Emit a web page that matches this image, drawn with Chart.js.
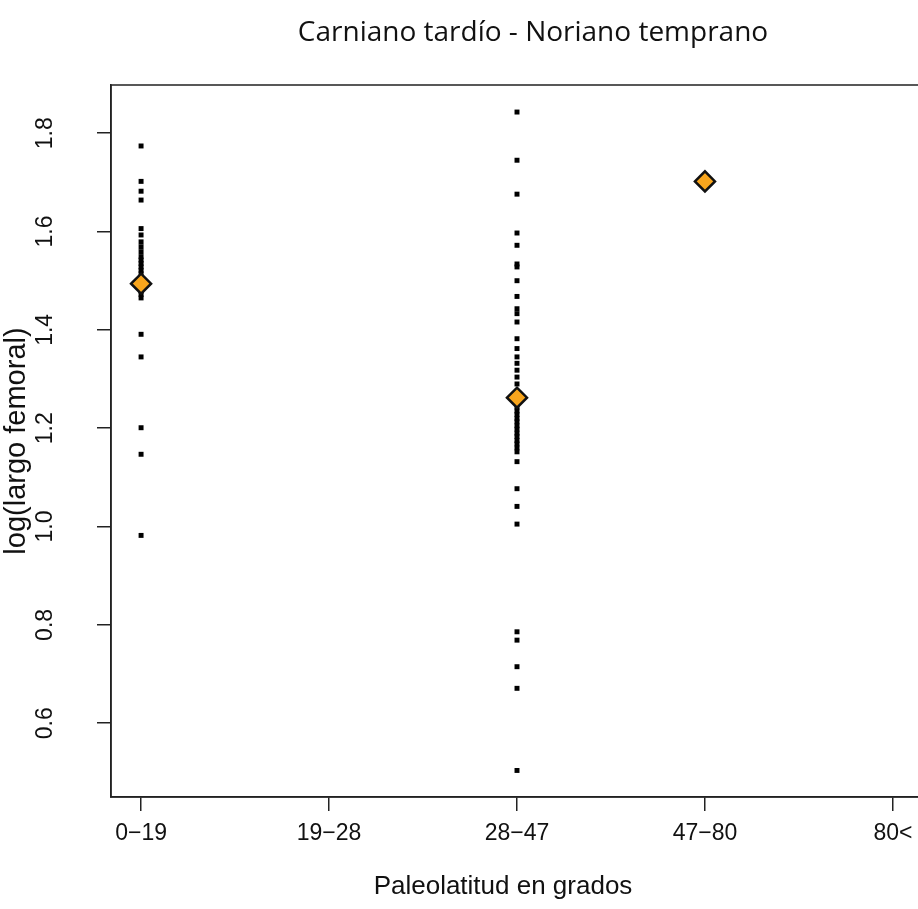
<!DOCTYPE html>
<html>
<head>
<meta charset="utf-8">
<script src="https://cdn.jsdelivr.net/npm/chart.js@4"></script>
<style>
  html, body { margin: 0; padding: 0; background: #fff; overflow: hidden; }
</style>
</head>
<body>
<canvas id="latChart" width="940" height="909"></canvas>
<script>
// Bandas de paleolatitud (eje x)
const latBins = ["0\u221219", "19\u221228", "28\u221247", "47\u221280", "80<"];
const yTicks = [0.6, 0.8, 1.0, 1.2, 1.4, 1.6, 1.8];

// log(largo femoral) por banda
const femur0_19 = [1.774, 1.702, 1.682, 1.664, 1.606, 1.593, 1.579, 1.569, 1.559,
    1.549, 1.542, 1.535, 1.528, 1.521, 1.514, 1.507, 1.500, 1.493, 1.486, 1.479,
    1.472, 1.465, 1.391, 1.345, 1.201, 1.147, 0.982];
const femur28_47 = [1.843, 1.745, 1.676, 1.597, 1.572, 1.534, 1.528, 1.500, 1.468,
    1.443, 1.433, 1.416, 1.382, 1.362, 1.345, 1.332, 1.318, 1.304, 1.290, 1.275,
    1.262, 1.250, 1.243, 1.235, 1.228, 1.220, 1.213, 1.205, 1.198, 1.190, 1.183,
    1.175, 1.168, 1.160, 1.152, 1.132, 1.077, 1.041, 1.005, 0.786, 0.769, 0.715,
    0.671, 0.504];
const femur47_80 = [1.702];

// Mediana por banda (rombos naranjas)
const medians = [1.494, null, 1.262, 1.702, null];

const points = [];
femur0_19.forEach(v => points.push({ x: 0, y: v }));
femur28_47.forEach(v => points.push({ x: 2, y: v }));
femur47_80.forEach(v => points.push({ x: 3, y: v }));

const medianPoints = [];
medians.forEach((v, i) => { if (v !== null) medianPoints.push({ x: i, y: v }); });

// caja alrededor del area, titulo principal y titulo del eje x
const boxAndTitle = {
    id: "boxAndTitle",
    afterDraw(chart) {
        const c = chart.ctx;
        const a = chart.chartArea;
        c.save();
        c.strokeStyle = "#222";
        c.lineWidth = 1.5;
        c.strokeRect(a.left, a.top, a.right - a.left, a.bottom - a.top);
        c.fillStyle = "#111";
        c.textAlign = "center";
        c.textBaseline = "middle";
        c.font = "28px 'Open Sans'";
        c.fillText("Carniano tardío - Noriano temprano", 533, 33);
        c.font = "26px 'Liberation Sans', Arial, sans-serif";
        c.fillText("Paleolatitud en grados", 503, 887);
        c.restore();
    }
};

const tickFont = { family: "'Liberation Sans', Arial, sans-serif", size: 23 };

new Chart(document.getElementById("latChart"), {
    type: "scatter",
    data: {
        datasets: [{
            label: "mediana",
            data: medianPoints,
            order: 0,
            pointStyle: "rectRot",
            pointRadius: 10,
            backgroundColor: "#F8A51D",
            borderColor: "#111",
            borderWidth: 2.5
        }, {
            label: "femur",
            data: points,
            order: 1,
            pointStyle: "rect",
            pointRadius: 3.5,
            backgroundColor: "#000",
            borderWidth: 0
        }]
    },
    options: {
        responsive: false,
        animation: false,
        devicePixelRatio: 1,
        layout: { padding: { top: 85, right: 17, left: 0, bottom: 0 } },
        plugins: {
            legend: { display: false },
            tooltip: { enabled: false }
        },
        scales: {
            x: {
                type: "linear",
                min: -0.16,
                max: 4.16,
                afterBuildTicks: s => { s.ticks = latBins.map((b, i) => ({ value: i })); },
                afterFit: s => { s.height = 112; },
                ticks: {
                    color: "#111",
                    font: tickFont,
                    padding: 9,
                    maxRotation: 0,
                    autoSkip: false,
                    callback: v => latBins[v]
                },
                grid: {
                    drawOnChartArea: false,
                    drawTicks: true,
                    tickLength: 14,
                    color: "#222",
                    lineWidth: 1.5
                },
                border: { display: true, color: "#222", width: 1.5 }
            },
            y: {
                type: "linear",
                min: 0.45,
                max: 1.898,
                afterBuildTicks: s => { s.ticks = yTicks.map(v => ({ value: v })); },
                afterFit: s => { s.width = 111; },
                ticks: {
                    color: "#111",
                    font: tickFont,
                    padding: 35,
                    minRotation: 90,
                    maxRotation: 90,
                    crossAlign: "center",
                    callback: v => v.toFixed(1)
                },
                grid: {
                    drawOnChartArea: false,
                    drawTicks: true,
                    tickLength: 14,
                    color: "#222",
                    lineWidth: 1.5
                },
                border: { display: true, color: "#222", width: 1.5 },
                title: {
                    display: true,
                    text: "log(largo femoral)",
                    color: "#111",
                    font: { family: "'Liberation Sans', Arial, sans-serif", size: 29 },
                    padding: { top: 0, bottom: 0 }
                }
            }
        }
    },
    plugins: [boxAndTitle]
});
</script>
</body>
</html>
